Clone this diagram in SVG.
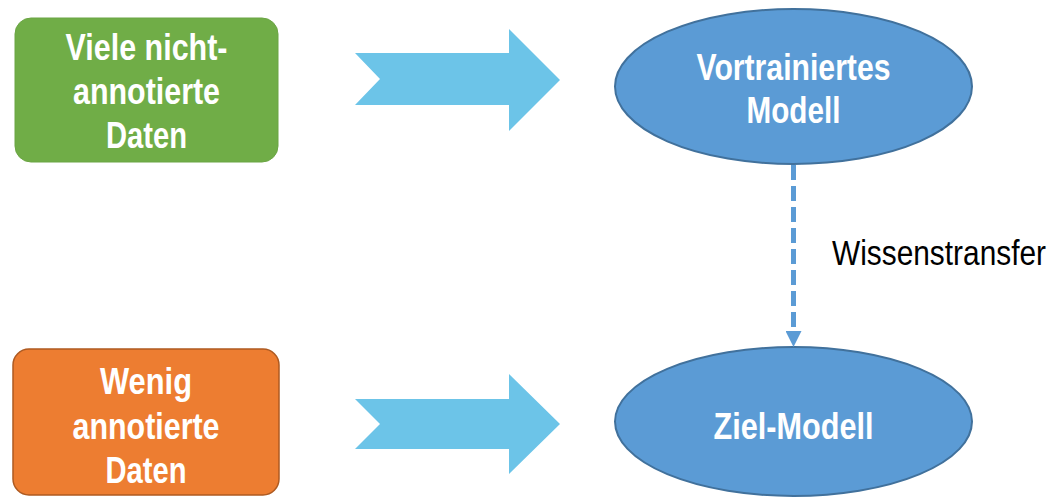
<svg xmlns="http://www.w3.org/2000/svg" width="1053" height="497" viewBox="0 0 1053 497">
  <defs>
    <style>
      .lbl { font-family: "Liberation Sans Narrow", "Arial Narrow", "Liberation Sans", Arial, sans-serif; font-weight: bold; font-size: 37px; fill: #FFFFFF; text-anchor: middle; }
      .note { font-family: "Liberation Sans Narrow", "Arial Narrow", "Liberation Sans", Arial, sans-serif; font-size: 35px; fill: #000000; text-anchor: end; }
      .bigarrow { fill: #6CC4E8; stroke: none; }
      .ell { fill: #5B9BD5; stroke: #41719C; stroke-width: 2; }
    </style>
    <marker id="tri" viewBox="0 0 16 16" refX="0" refY="8" markerWidth="16" markerHeight="16" markerUnits="userSpaceOnUse" orient="auto">
      <path d="M0,0 L16,8 L0,16 Z" fill="#5B9BD5"/>
    </marker>
  </defs>
  <rect width="1053" height="497" fill="#FFFFFF"/>

  <g id="node-unlabeled">
    <rect x="15" y="18" width="263" height="144" rx="16" ry="16" fill="#70AD47" stroke="#6BA544" stroke-width="1"/>
    <text class="lbl" x="146.5" y="59.5" textLength="162" lengthAdjust="spacingAndGlyphs">Viele nicht-</text>
    <text class="lbl" x="146.5" y="103.5" textLength="147" lengthAdjust="spacingAndGlyphs">annotierte</text>
    <text class="lbl" x="146.5" y="148" textLength="81" lengthAdjust="spacingAndGlyphs">Daten</text>
  </g>

  <g id="node-labeled">
    <rect x="13" y="349" width="266" height="146" rx="16" ry="16" fill="#ED7D31" stroke="#AE5A21" stroke-width="1.5"/>
    <text class="lbl" x="146" y="393.5" textLength="92" lengthAdjust="spacingAndGlyphs">Wenig</text>
    <text class="lbl" x="146" y="438.5" textLength="147" lengthAdjust="spacingAndGlyphs">annotierte</text>
    <text class="lbl" x="146" y="482.5" textLength="81" lengthAdjust="spacingAndGlyphs">Daten</text>
  </g>

  <g id="node-pretrained">
    <ellipse class="ell" cx="793.5" cy="86.5" rx="178.5" ry="77.5"/>
    <text class="lbl" x="793.5" y="79.5" textLength="194" lengthAdjust="spacingAndGlyphs">Vortrainiertes</text>
    <text class="lbl" x="793.5" y="123" textLength="94" lengthAdjust="spacingAndGlyphs">Modell</text>
  </g>

  <g id="node-target">
    <ellipse class="ell" cx="793.5" cy="421.5" rx="178.5" ry="74.5"/>
    <text class="lbl" x="793.5" y="439" textLength="160" lengthAdjust="spacingAndGlyphs">Ziel-Modell</text>
  </g>

  <g id="connectors">
    <polygon class="bigarrow" points="355,53 509,53 509,29 560,80 509,131 509,105 355,105 380,79"/>
    <polygon class="bigarrow" points="355,399 509,399 509,374 560,424 509,474 509,449 355,449 380,424"/>
    <line x1="793.5" y1="165" x2="793.5" y2="331" stroke="#5B9BD5" stroke-width="5" stroke-dasharray="15 6" marker-end="url(#tri)"/>
    <text class="note" x="1046" y="264.5" textLength="214" lengthAdjust="spacingAndGlyphs">Wissenstransfer</text>
  </g>
</svg>
